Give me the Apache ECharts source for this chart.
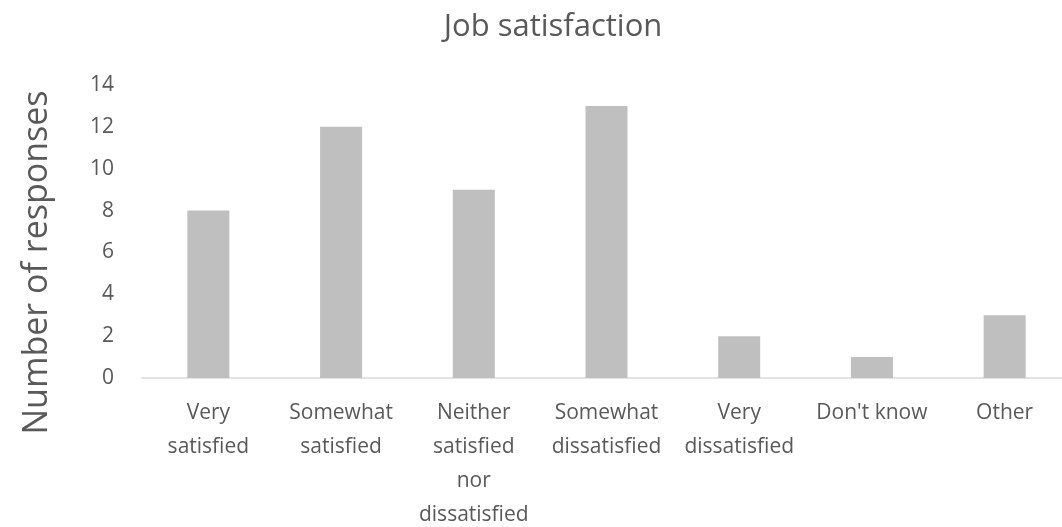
<!DOCTYPE html>
<html>
<head>
<meta charset="utf-8">
<script src="https://cdn.jsdelivr.net/npm/echarts@6/dist/echarts.min.js"></script>
<style>
  html, body { margin: 0; padding: 0; background: #ffffff; }
  #chart { width: 1062px; height: 527px; }
</style>
</head>
<body>
<div id="chart"></div>
<script>
const categories = [
  'Very\nsatisfied',
  'Somewhat\nsatisfied',
  'Neither\nsatisfied\nnor\ndissatisfied',
  'Somewhat\ndissatisfied',
  'Very\ndissatisfied',
  "Don't know",
  'Other'
];
const responses = [8, 12, 9, 13, 2, 1, 3];

const textColor = '#595959';
const fontFamily = '"Open Sans", sans-serif';

const chart = echarts.init(document.getElementById('chart'));
chart.setOption({
  animation: false,
  textStyle: { fontFamily: fontFamily },
  title: {
    text: 'Job satisfaction',
    left: 548,
    top: 7,
    textAlign: 'center',
    textStyle: { color: textColor, fontSize: 31, fontWeight: 'normal', fontFamily: fontFamily }
  },
  grid: {
    left: 142,
    right: -9,
    top: 85,
    bottom: 149,
    containLabel: false,
    outerBoundsMode: 'none'
  },
  xAxis: {
    type: 'category',
    data: categories,
    axisLine: { lineStyle: { color: '#d9d9d9', width: 1.5 } },
    axisTick: { show: false },
    axisLabel: {
      color: textColor,
      fontSize: 21,
      lineHeight: 34,
      margin: 18,
      interval: 0,
      fontFamily: fontFamily
    }
  },
  yAxis: {
    type: 'value',
    min: 0,
    max: 14,
    interval: 2,
    name: 'Number of responses',
    nameLocation: 'middle',
    nameGap: 88,
    nameTextStyle: {
      color: textColor,
      fontSize: 34,
      fontFamily: fontFamily,
      padding: [0, 62, 0, 0]
    },
    axisLine: { show: false },
    axisTick: { show: false },
    splitLine: { show: false },
    axisLabel: { color: textColor, fontSize: 21, margin: 28, fontFamily: fontFamily }
  },
  series: [{
    type: 'bar',
    data: responses,
    barWidth: 42,
    itemStyle: { color: '#bfbfbf' }
  }]
});
</script>
</body>
</html>
